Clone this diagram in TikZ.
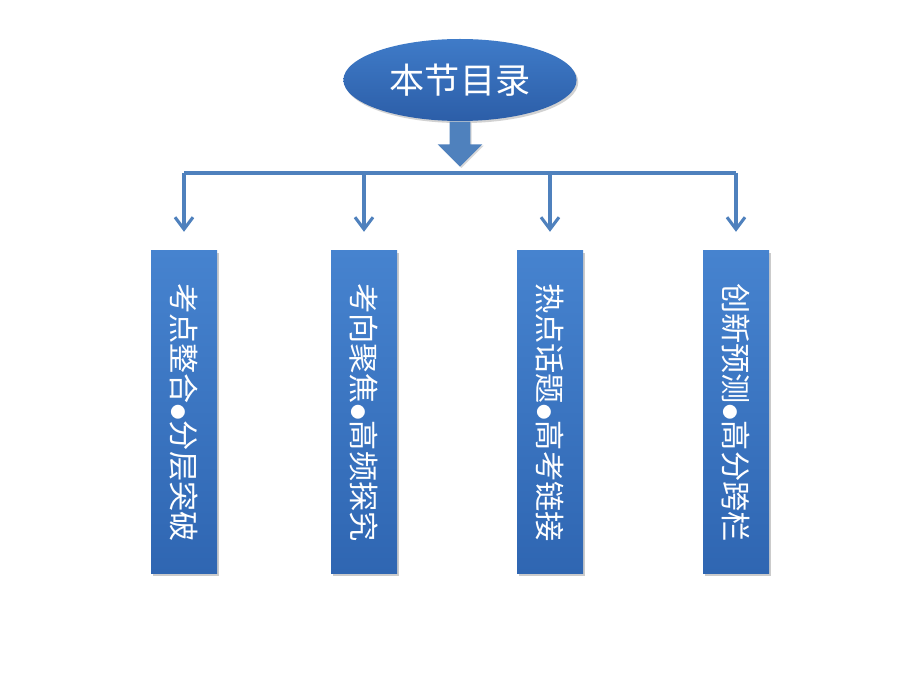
\documentclass[tikz,border=0pt]{standalone}
\usepackage{fontspec}
\newfontfamily\cjk{Noto Sans CJK SC}
\usetikzlibrary{arrows.meta,positioning,shapes.geometric,shapes.arrows,shadows}
\definecolor{navy}{HTML}{2C5EA8}
\definecolor{blue}{HTML}{3F7BC8}
\definecolor{boxtop}{HTML}{4683CF}
\definecolor{boxbot}{HTML}{2F66B2}
\definecolor{line}{HTML}{4F81BD}
\newcommand{\dotsep}{\hspace{0.5pt}{\fontsize{11}{12}\selectfont●}\hspace{0.5pt}}
\tikzset{
  bus/.style={draw=line,line width=2.2pt},
  link/.style={bus,-{Straight Barb[length=3mm,width=4.5mm,line width=2.2pt]}},
  topic/.style={ellipse,top color=blue,bottom color=navy,draw=none,text=white,
    minimum width=58.3mm,minimum height=20.5mm,font=\cjk\fontsize{25}{30}\selectfont,
    drop shadow={shadow xshift=1.2pt,shadow yshift=-1.5pt,fill=black!35}},
  downarrow/.style={single arrow,rotate=-90,fill=line,draw=none,inner xsep=0pt,
    inner ysep=2.5mm,minimum height=11.25mm,minimum width=0pt,
    single arrow head extend=3mm,single arrow head indent=0pt,
    drop shadow={shadow xshift=1pt,shadow yshift=-1pt,fill=black!30}},
  part/.style={rectangle,rotate=-90,top color=boxtop,bottom color=boxbot,draw=none,
    text=white,minimum width=80.75mm,minimum height=16.5mm,inner sep=0pt,
    font=\cjk\fontsize{21.5}{24}\selectfont,
    drop shadow={shadow xshift=1.5pt,shadow yshift=-1.5pt,fill=black!40}}
}
\begin{document}
\begin{tikzpicture}
  \fill[white] (0,0) rectangle (23,17.25);
  \useasboundingbox (0,0) rectangle (23,17.25);
  \node[topic] (toc) at (11.5,15.25) {本节目录};
  \node[downarrow,anchor=tail] (down) at (toc.south) {};
  \coordinate (bus) at (11.5,12.925);
  % four parts
  \node[part] (p1) at (4.6,6.94) {考点整合\dotsep 分层突破};
  \node[part] (p2) at (9.1,6.94) {考向聚焦\dotsep 高频探究};
  \node[part] (p3) at (13.75,6.94) {热点话题\dotsep 高考链接};
  \node[part] (p4) at (18.4,6.94) {创新预测\dotsep 高分跨栏};
  \draw[bus] (p1.west |- bus) -- (p4.west |- bus);
  \foreach \p in {p1,p2,p3,p4}
    \draw[link,shorten >=4.7mm] (\p.west |- bus) -- (\p.west);
\end{tikzpicture}
\end{document}
